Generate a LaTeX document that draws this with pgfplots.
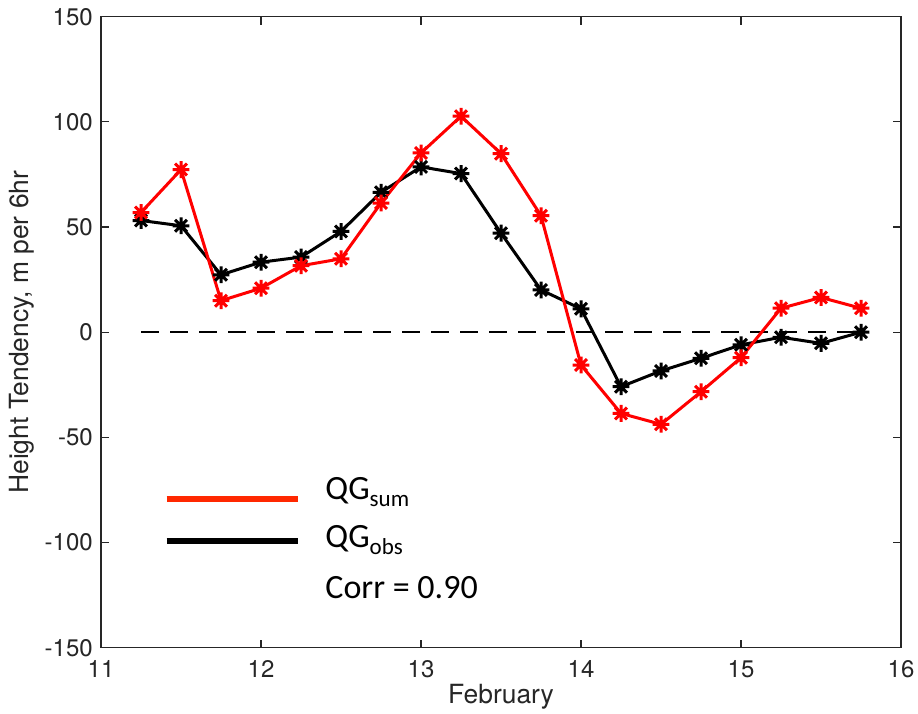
\documentclass[border=0pt]{standalone}
\usepackage{pgfplots}
\pgfplotsset{compat=1.18}
\usepackage{fontspec}
\setmainfont{TeX Gyre Heros}
\newfontfamily\calfont{Carlito}
\definecolor{axgray}{RGB}{38,38,38}
\definecolor{legred}{RGB}{255,40,0}
\pgfdeclareplotmark{ast8}{%
 \pgfpathmoveto{\pgfqpoint{-\pgfplotmarksize}{0pt}}\pgfpathlineto{\pgfqpoint{\pgfplotmarksize}{0pt}}%
 \pgfpathmoveto{\pgfqpoint{0pt}{-\pgfplotmarksize}}\pgfpathlineto{\pgfqpoint{0pt}{\pgfplotmarksize}}%
 \pgfpathmoveto{\pgfqpoint{-.7071\pgfplotmarksize}{-.7071\pgfplotmarksize}}\pgfpathlineto{\pgfqpoint{.7071\pgfplotmarksize}{.7071\pgfplotmarksize}}%
 \pgfpathmoveto{\pgfqpoint{-.7071\pgfplotmarksize}{.7071\pgfplotmarksize}}\pgfpathlineto{\pgfqpoint{.7071\pgfplotmarksize}{-.7071\pgfplotmarksize}}%
 \pgfusepathqstroke}
\begin{document}
\begin{tikzpicture}
\begin{axis}[
  scale only axis,
  width=400pt, height=315.5pt,
  xmin=11, xmax=16, ymin=-150, ymax=150,
  xtick={11,12,13,14,15,16},
  ytick={-150,-100,-50,0,50,100,150},
  tick align=inside,
  major tick length=4pt,
  axis line style={axgray, line width=0.6pt},
  every tick/.style={axgray, line width=0.6pt},
  /pgf/number format/assume math mode=true,
  ticklabel style={font=\fontsize{12}{14}\selectfont, text=axgray},
  xticklabel style={yshift=-3pt},
  yticklabel style={xshift=-0.6pt},
  xlabel={February},
  ylabel={Height Tendency, m per 6hr},
  label style={font=\fontsize{13.2}{15}\selectfont, text=axgray},
  xlabel style={at={(rel axis cs:0.5,0)}, anchor=base, yshift=-27.7pt},
  ylabel style={at={(rel axis cs:0,0.5)}, anchor=center, yshift=39.5pt},
  clip=false,
]
\addplot[black, dashed, line width=1pt, dash pattern=on 9pt off 5.5pt] coordinates {(11.25,0) (15.75,0)};
\addplot[black, line width=1.5pt, mark=ast8, mark size=4.2pt, mark options={line width=1.5pt, solid}] coordinates {
(11.25,53.1) (11.5,50.6) (11.75,27.3) (12.0,33.3) (12.25,35.7) (12.5,47.9) (12.75,66.5) (13.0,78.6) (13.25,75.4) (13.5,47.1) (13.75,20.1) (14.0,11.1) (14.25,-25.9) (14.5,-18.4) (14.75,-12.4) (15.0,-6.0) (15.25,-2.4) (15.5,-5.3) (15.75,0)};
\addplot[red, line width=1.5pt, mark=ast8, mark size=4.2pt, mark options={line width=1.5pt, solid}] coordinates {
(11.25,56.9) (11.5,77.3) (11.75,15.0) (12.0,20.9) (12.25,31.6) (12.5,34.9) (12.75,61.4) (13.0,85.2) (13.25,102.7) (13.5,84.9) (13.75,55.4) (14.0,-15.6) (14.25,-38.6) (14.5,-43.8) (14.75,-28.3) (15.0,-12.1) (15.25,11.4) (15.5,16.5) (15.75,11.4)};
\draw[legred, line width=3pt] (axis cs:11.41,-79.3) -- (axis cs:12.234,-79.3);
\draw[black, line width=3pt] (axis cs:11.41,-99.2) -- (axis cs:12.234,-99.2);
\node[anchor=base west, inner sep=0pt, font=\calfont\fontsize{17}{20}\selectfont] at (axis cs:12.4,-79.7) {QG\raisebox{-3.4pt}{\fontsize{11.5}{13}\selectfont sum}};
\node[anchor=base west, inner sep=0pt, font=\calfont\fontsize{17}{20}\selectfont] at (axis cs:12.4,-102.5) {QG\raisebox{-3.4pt}{\fontsize{11.5}{13}\selectfont obs}};
\node[anchor=base west, inner sep=0pt, font=\calfont\fontsize{17}{20}\selectfont] at (axis cs:12.4,-126.5) {Corr = 0.90};
\end{axis}
\pgfresetboundingbox
\useasboundingbox ([xshift=-50.5pt,yshift=-32.65pt]current axis.south west) rectangle ([xshift=8.5pt,yshift=8.35pt]current axis.north east);
\end{tikzpicture}
\end{document}
